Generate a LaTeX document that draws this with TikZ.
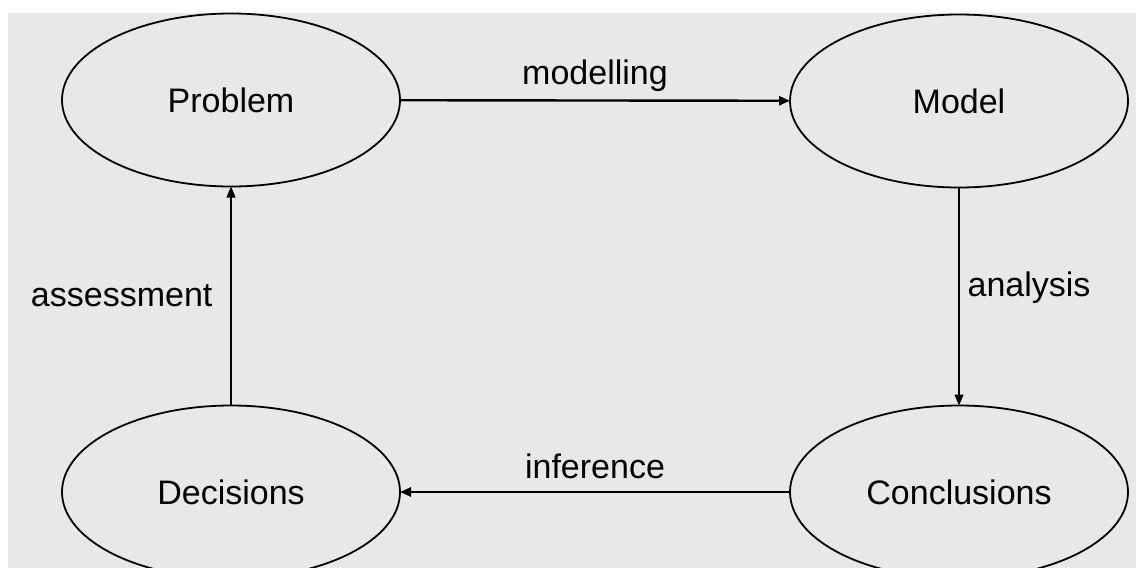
\documentclass[tikz,border=0pt]{standalone}
\usepackage{fontspec}
\setmainfont{Liberation Sans}
\usetikzlibrary{shapes,arrows.meta}

\begin{document}
\begin{tikzpicture}[x=0.5pt,y=-0.5pt,
        stage/.style={ellipse,draw,line width=0.9pt,inner sep=0pt,outer sep=0pt,
            minimum width=169pt,minimum height=86.5pt},
        flow/.style={-{Triangle[length=5.5pt,width=4.5pt]},line width=1.2pt},
        thinflow/.style={flow,line width=0.6pt},
        every node/.style={font=\fontsize{17}{20}\selectfont}]
        % 背景
        \useasboundingbox (0,0) rectangle (1136,568);
        \fill[white] (0,0) rectangle (1136,568);
        \fill[black!9] (8,13) rectangle (1136,568);

        % 四个阶段
        \node[stage] (prob) at (231,100) {Problem};
        \node[stage] (model) at (959,101) {Model};
        \node[stage] (concl) at (959,492) {Conclusions};
        \node[stage] (decis) at (231,492) {Decisions};

        % 循环箭头
        \draw[flow] (prob) -- node[above,inner sep=4pt] {modelling} (model);
        \draw[thinflow] (model) -- node[right,pos=0.46,inner sep=4pt] {analysis} (concl);
        \draw[flow] (concl) -- node[above,inner sep=6pt] {inference} (decis);
        \draw[thinflow] (decis) -- node[left,inner sep=9pt] {assessment} (prob);
    \end{tikzpicture}
\end{document}
